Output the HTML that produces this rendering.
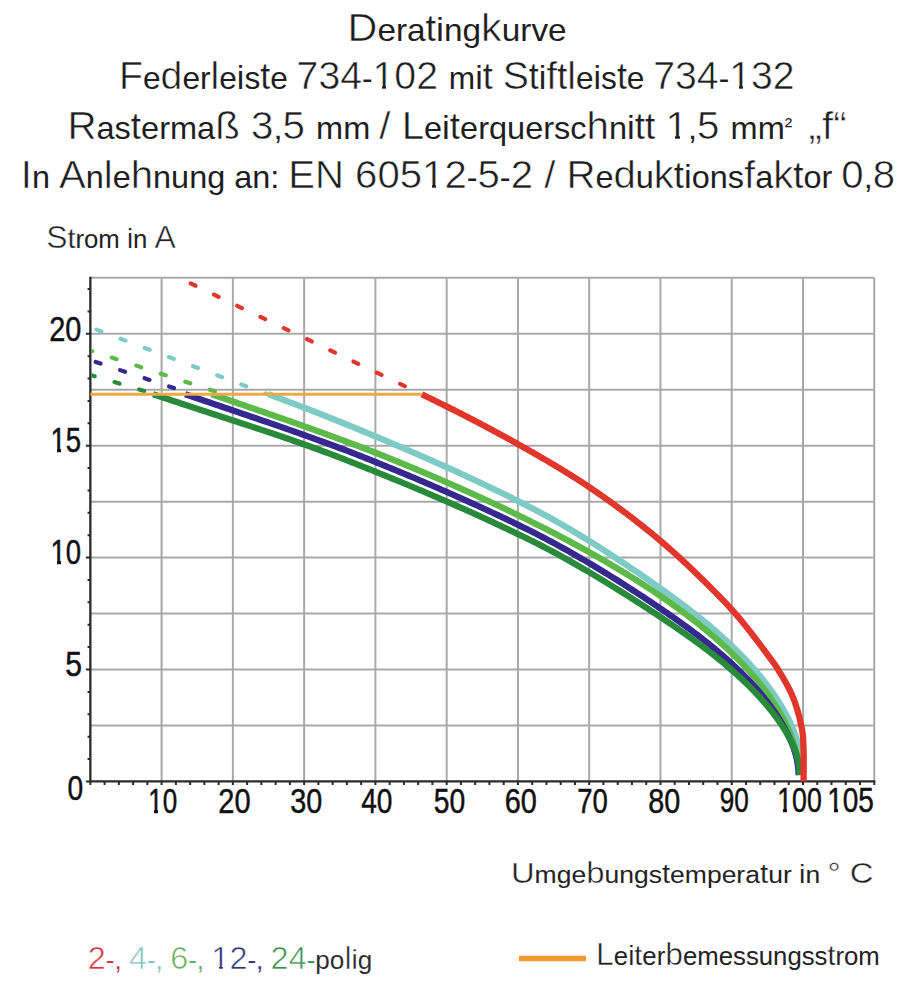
<!DOCTYPE html>
<html><head><meta charset="utf-8"><style>
html,body{margin:0;padding:0;background:#fff;}
svg{display:block;}
text{font-family:"Liberation Sans",sans-serif;}
</style></head><body>
<svg width="917" height="1000" viewBox="0 0 917 1000">
<g>
<rect width="917" height="1000" fill="#fff"/>
<path d="M161.61 277.85V781.40M232.88 277.85V781.40M304.14 277.85V781.40M375.41 277.85V781.40M446.67 277.85V781.40M517.93 277.85V781.40M589.20 277.85V781.40M660.46 277.85V781.40M731.73 277.85V781.40M802.99 277.85V781.40M874.25 277.85V781.40M90.35 725.45H874.25M90.35 669.50H874.25M90.35 613.55H874.25M90.35 557.60H874.25M90.35 501.65H874.25M90.35 445.70H874.25M90.35 389.75H874.25M90.35 333.80H874.25M90.35 277.85H874.25" stroke="#a9a9a9" stroke-width="2" fill="none"/>
<path d="M85.85 781.40H90.35M87.55 759.02H90.35M87.55 736.64H90.35M87.55 714.26H90.35M87.55 691.88H90.35M85.85 669.50H90.35M87.55 647.12H90.35M87.55 624.74H90.35M87.55 602.36H90.35M87.55 579.98H90.35M85.85 557.60H90.35M87.55 535.22H90.35M87.55 512.84H90.35M87.55 490.46H90.35M87.55 468.08H90.35M85.85 445.70H90.35M87.55 423.32H90.35M87.55 400.94H90.35M87.55 378.56H90.35M87.55 356.18H90.35M85.85 333.80H90.35M87.55 311.42H90.35M87.55 289.04H90.35M90.35 781.40V784.90M104.60 781.40V784.90M118.86 781.40V784.90M133.11 781.40V784.90M147.36 781.40V784.90M161.61 781.40V784.90M175.87 781.40V784.90M190.12 781.40V784.90M204.37 781.40V784.90M218.63 781.40V784.90M232.88 781.40V784.90M247.13 781.40V784.90M261.38 781.40V784.90M275.64 781.40V784.90M289.89 781.40V784.90M304.14 781.40V784.90M318.39 781.40V784.90M332.65 781.40V784.90M346.90 781.40V784.90M361.15 781.40V784.90M375.41 781.40V784.90M389.66 781.40V784.90M403.91 781.40V784.90M418.16 781.40V784.90M432.42 781.40V784.90M446.67 781.40V784.90M460.92 781.40V784.90M475.18 781.40V784.90M489.43 781.40V784.90M503.68 781.40V784.90M517.93 781.40V784.90M532.19 781.40V784.90M546.44 781.40V784.90M560.69 781.40V784.90M574.95 781.40V784.90M589.20 781.40V784.90M603.45 781.40V784.90M617.70 781.40V784.90M631.96 781.40V784.90M646.21 781.40V784.90M660.46 781.40V784.90M674.71 781.40V784.90M688.97 781.40V784.90M703.22 781.40V784.90M717.47 781.40V784.90M731.73 781.40V784.90M745.98 781.40V784.90M760.23 781.40V784.90M774.48 781.40V784.90M788.74 781.40V784.90M802.99 781.40V784.90M817.24 781.40V784.90M831.50 781.40V784.90M845.75 781.40V784.90M860.00 781.40V784.90M874.25 781.40V784.90" stroke="#2b2b2b" stroke-width="2" fill="none"/>
<path d="M90.35 276.85V781.40H875.25" stroke="#2b2b2b" stroke-width="2.3" fill="none"/>
<clipPath id="cp"><rect x="91.35" y="277.85" width="783.90" height="503.55"/></clipPath>
<g clip-path="url(#cp)"><path d="M90.35 327.31L267.18 394.23" stroke="#7ecbc6" stroke-width="4.2" stroke-linecap="round" stroke-dasharray="5.2 20.6" stroke-dashoffset="19.18" fill="none"/><path d="M90.35 350.58L223.59 394.23" stroke="#5db94a" stroke-width="4.2" stroke-linecap="round" stroke-dasharray="5.2 20.6" stroke-dashoffset="3.30" fill="none"/><path d="M90.35 360.21L192.54 394.23" stroke="#35288e" stroke-width="4.2" stroke-linecap="round" stroke-dasharray="5.2 20.6" stroke-dashoffset="20.23" fill="none"/><path d="M90.35 374.98L155.48 394.23" stroke="#2a8a3c" stroke-width="4.2" stroke-linecap="round" stroke-dasharray="5.2 20.6" stroke-dashoffset="0.67" fill="none"/><path d="M178.96 277.85L421.80 394.23" stroke="#e1362b" stroke-width="4.2" stroke-linecap="round" stroke-dasharray="5.2 20.6" stroke-dashoffset="12.78" fill="none"/></g>
<path d="M268.51 394.23 L272.88 395.85 L277.23 397.47 L281.55 399.09 L285.86 400.71 L290.13 402.33 L294.39 403.95 L298.63 405.57 L302.84 407.19 L307.03 408.81 L311.21 410.43 L315.36 412.05 L319.49 413.67 L323.60 415.29 L327.69 416.91 L331.76 418.53 L335.82 420.15 L339.85 421.77 L343.87 423.39 L347.87 425.01 L351.85 426.63 L355.81 428.25 L359.76 429.87 L363.69 431.49 L367.60 433.11 L371.50 434.73 L375.39 436.35 L379.25 437.97 L383.11 439.59 L386.94 441.21 L390.77 442.83 L394.58 444.45 L398.37 446.07 L402.15 447.69 L405.92 449.31 L409.68 450.93 L413.42 452.55 L417.16 454.17 L420.88 455.79 L424.58 457.41 L428.28 459.02 L431.95 460.64 L435.61 462.26 L439.25 463.88 L442.87 465.50 L446.48 467.12 L450.06 468.74 L453.63 470.36 L457.18 471.98 L460.72 473.60 L464.24 475.22 L467.73 476.84 L471.22 478.46 L474.68 480.08 L478.13 481.70 L481.55 483.32 L484.97 484.94 L488.36 486.56 L491.73 488.18 L495.09 489.80 L498.43 491.42 L501.76 493.04 L505.06 494.66 L508.35 496.28 L511.62 497.90 L514.87 499.52 L518.10 501.14 L521.32 502.76 L524.52 504.38 L527.70 506.00 L530.86 507.62 L534.01 509.25 L537.14 510.88 L540.25 512.53 L543.34 514.19 L546.42 515.86 L549.47 517.54 L552.51 519.23 L555.53 520.93 L558.54 522.63 L561.52 524.34 L564.49 526.06 L567.44 527.79 L570.38 529.51 L573.29 531.24 L576.19 532.98 L579.07 534.71 L581.93 536.45 L584.77 538.19 L587.60 539.94 L590.41 541.68 L593.20 543.42 L595.97 545.16 L598.72 546.90 L601.46 548.64 L604.18 550.38 L606.88 552.11 L609.57 553.84 L612.23 555.58 L614.88 557.30 L617.51 559.03 L620.12 560.75 L622.71 562.47 L625.29 564.18 L627.85 565.89 L630.39 567.60 L632.91 569.30 L635.41 571.00 L637.90 572.69 L640.37 574.38 L642.82 576.06 L645.25 577.74 L647.67 579.41 L650.06 581.08 L652.44 582.75 L654.80 584.40 L657.14 586.06 L659.47 587.71 L661.77 589.35 L664.06 590.99 L666.33 592.62 L668.59 594.25 L670.82 595.88 L673.04 597.50 L675.24 599.11 L677.42 600.72 L679.58 602.33 L681.72 603.93 L683.85 605.53 L685.96 607.12 L688.05 608.71 L690.12 610.29 L692.17 611.88 L694.21 613.46 L696.22 615.04 L698.22 616.63 L700.20 618.21 L702.17 619.80 L704.11 621.38 L706.04 622.97 L707.95 624.55 L709.84 626.14 L711.71 627.72 L713.56 629.30 L715.40 630.89 L717.21 632.47 L719.01 634.06 L720.79 635.64 L722.56 637.23 L724.30 638.81 L726.02 640.39 L727.73 641.98 L729.42 643.56 L731.09 645.15 L732.74 646.73 L734.38 648.32 L735.99 649.90 L737.59 651.48 L739.17 653.07 L740.73 654.65 L742.27 656.24 L743.80 657.82 L745.30 659.41 L746.79 660.99 L748.26 662.57 L749.71 664.16 L751.14 665.74 L752.55 667.33 L753.95 668.91 L755.32 670.50 L756.68 672.08 L758.02 673.67 L759.34 675.25 L760.64 676.83 L761.93 678.42 L763.19 680.00 L764.44 681.59 L765.66 683.17 L766.87 684.76 L768.06 686.34 L769.23 687.92 L770.39 689.51 L771.52 691.09 L772.64 692.68 L773.73 694.26 L774.81 695.85 L775.87 697.43 L776.91 699.01 L777.93 700.60 L778.93 702.18 L779.92 703.77 L780.88 705.35 L781.83 706.94 L782.76 708.52 L783.66 710.10 L784.55 711.69 L785.42 713.27 L786.27 714.86 L787.11 716.44 L787.92 718.03 L788.71 719.61 L789.49 721.20 L790.24 722.78 L790.97 724.36 L791.68 725.95 L792.38 727.53 L793.04 729.12 L793.69 730.70 L794.31 732.29 L794.90 733.87 L795.47 735.45 L796.00 737.04 L796.50 738.62 L796.96 740.21 L797.39 741.79 L797.77 743.38 L798.12 744.96 L798.42 746.54 L798.68 748.13 L798.91 749.71 L799.10 751.30 L799.26 752.88 L799.39 754.47 L799.50 756.05 L799.60 757.63 L799.67 759.22 L799.73 760.80 L799.79 762.39 L799.83 763.97 L799.86 765.56 L799.89 767.14 L799.91 768.73 L799.93 770.31 L799.95 771.89 L799.96 773.48 L799.97 775.06" stroke="#7ecbc6" stroke-width="6.3" fill="none" stroke-linejoin="round" stroke-linecap="butt"/>
<path d="M211.50 394.23 L216.24 395.85 L220.98 397.47 L225.73 399.09 L230.47 400.71 L235.20 402.33 L239.93 403.95 L244.66 405.57 L249.38 407.19 L254.10 408.81 L258.81 410.43 L263.50 412.05 L268.19 413.67 L272.87 415.29 L277.53 416.91 L282.18 418.53 L286.82 420.15 L291.44 421.77 L296.04 423.39 L300.63 425.01 L305.20 426.63 L309.75 428.25 L314.27 429.87 L318.78 431.49 L323.27 433.11 L327.73 434.73 L332.16 436.35 L336.57 437.97 L340.96 439.59 L345.31 441.21 L349.64 442.83 L353.94 444.45 L358.21 446.07 L362.44 447.69 L366.65 449.31 L370.81 450.93 L374.95 452.55 L379.05 454.17 L383.11 455.79 L387.13 457.41 L391.13 459.02 L395.11 460.64 L399.07 462.26 L403.02 463.88 L406.94 465.50 L410.85 467.12 L414.73 468.74 L418.60 470.36 L422.45 471.98 L426.28 473.60 L430.09 475.22 L433.88 476.84 L437.66 478.46 L441.41 480.08 L445.15 481.70 L448.86 483.32 L452.56 484.94 L456.24 486.56 L459.90 488.18 L463.54 489.80 L467.16 491.42 L470.76 493.04 L474.35 494.66 L477.91 496.28 L481.46 497.90 L484.98 499.52 L488.49 501.14 L491.98 502.76 L495.45 504.38 L498.90 506.00 L502.33 507.62 L505.74 509.24 L509.13 510.86 L512.51 512.48 L515.86 514.10 L519.20 515.72 L522.52 517.34 L525.81 518.96 L529.09 520.58 L532.35 522.20 L535.59 523.82 L538.81 525.44 L542.01 527.06 L545.20 528.68 L548.36 530.30 L551.50 531.92 L554.63 533.54 L557.74 535.16 L560.82 536.78 L563.89 538.40 L566.94 540.02 L569.97 541.64 L572.98 543.26 L575.97 544.88 L578.94 546.50 L581.89 548.12 L584.83 549.74 L587.74 551.36 L590.64 552.98 L593.51 554.60 L596.37 556.22 L599.20 557.84 L602.02 559.46 L604.82 561.08 L607.60 562.70 L610.36 564.32 L613.10 565.94 L615.82 567.56 L618.52 569.18 L621.20 570.80 L623.87 572.42 L626.51 574.04 L629.13 575.66 L631.74 577.28 L634.32 578.90 L636.89 580.52 L639.44 582.14 L641.96 583.76 L644.47 585.38 L646.96 587.00 L649.43 588.62 L651.88 590.24 L654.31 591.86 L656.72 593.48 L659.11 595.10 L661.48 596.72 L663.83 598.34 L666.17 599.96 L668.48 601.58 L670.77 603.20 L673.05 604.82 L675.30 606.44 L677.53 608.06 L679.75 609.68 L681.94 611.30 L684.12 612.92 L686.28 614.54 L688.41 616.16 L690.53 617.78 L692.63 619.40 L694.71 621.02 L696.76 622.64 L698.80 624.26 L700.82 625.88 L702.82 627.50 L704.80 629.12 L706.76 630.74 L708.70 632.36 L710.62 633.98 L712.52 635.60 L714.40 637.22 L716.26 638.84 L718.10 640.46 L719.92 642.08 L721.72 643.70 L723.50 645.32 L725.27 646.94 L727.01 648.56 L728.73 650.18 L730.43 651.80 L732.11 653.42 L733.77 655.04 L735.42 656.66 L737.04 658.28 L738.64 659.90 L740.22 661.52 L741.79 663.14 L743.33 664.76 L744.85 666.38 L746.35 668.00 L747.83 669.62 L749.30 671.24 L750.74 672.86 L752.16 674.48 L753.56 676.10 L754.94 677.72 L756.30 679.34 L757.64 680.96 L758.96 682.58 L760.26 684.20 L761.55 685.82 L762.81 687.44 L764.04 689.06 L765.26 690.68 L766.46 692.30 L767.64 693.92 L768.80 695.54 L769.94 697.16 L771.06 698.78 L772.15 700.40 L773.23 702.02 L774.29 703.64 L775.32 705.26 L776.34 706.88 L777.33 708.50 L778.30 710.12 L779.26 711.74 L780.19 713.36 L781.10 714.98 L781.99 716.60 L782.86 718.22 L783.71 719.84 L784.54 721.46 L785.35 723.08 L786.14 724.70 L786.90 726.32 L787.65 727.94 L788.37 729.56 L789.07 731.18 L789.75 732.80 L790.41 734.42 L791.05 736.04 L791.66 737.66 L792.26 739.28 L792.82 740.90 L793.37 742.52 L793.89 744.14 L794.38 745.76 L794.85 747.38 L795.29 749.00 L795.71 750.62 L796.10 752.24 L796.45 753.86 L796.78 755.48 L797.08 757.10 L797.36 758.72 L797.60 760.34 L797.82 761.96 L798.02 763.58 L798.19 765.20 L798.33 766.82 L798.46 768.44 L798.57 770.06 L798.66 771.68 L798.74 773.30 L798.80 774.92" stroke="#5db94a" stroke-width="6.3" fill="none" stroke-linejoin="round" stroke-linecap="butt"/>
<path d="M185.13 394.23 L189.89 395.85 L194.66 397.47 L199.43 399.09 L204.21 400.71 L208.99 402.33 L213.77 403.95 L218.56 405.57 L223.34 407.19 L228.13 408.81 L232.91 410.43 L237.68 412.05 L242.45 413.67 L247.22 415.29 L251.97 416.91 L256.72 418.53 L261.45 420.15 L266.17 421.77 L270.87 423.39 L275.56 425.01 L280.24 426.63 L284.89 428.25 L289.53 429.87 L294.14 431.49 L298.73 433.11 L303.30 434.73 L307.84 436.35 L312.36 437.97 L316.85 439.59 L321.30 441.21 L325.73 442.83 L330.13 444.45 L334.49 446.07 L338.81 447.69 L343.10 449.31 L347.35 450.93 L351.57 452.55 L355.74 454.17 L359.87 455.79 L363.96 457.41 L368.02 459.02 L372.07 460.64 L376.10 462.26 L380.11 463.88 L384.10 465.50 L388.08 467.12 L392.03 468.74 L395.97 470.36 L399.90 471.98 L403.80 473.60 L407.69 475.22 L411.56 476.84 L415.41 478.46 L419.24 480.08 L423.06 481.70 L426.85 483.32 L430.63 484.94 L434.40 486.56 L438.14 488.18 L441.87 489.80 L445.57 491.42 L449.26 493.04 L452.94 494.66 L456.59 496.28 L460.23 497.90 L463.85 499.52 L467.45 501.14 L471.03 502.76 L474.59 504.38 L478.14 506.00 L481.67 507.62 L485.18 509.24 L488.67 510.86 L492.14 512.48 L495.60 514.10 L499.04 515.72 L502.46 517.34 L505.86 518.96 L509.24 520.58 L512.61 522.20 L515.95 523.82 L519.28 525.44 L522.59 527.06 L525.89 528.68 L529.16 530.30 L532.42 531.92 L535.65 533.55 L538.87 535.19 L542.07 536.84 L545.26 538.50 L548.42 540.17 L551.57 541.85 L554.69 543.53 L557.80 545.22 L560.89 546.92 L563.96 548.62 L567.02 550.33 L570.05 552.04 L573.07 553.75 L576.07 555.47 L579.05 557.19 L582.01 558.91 L584.95 560.63 L587.88 562.36 L590.78 564.08 L593.67 565.80 L596.54 567.53 L599.39 569.25 L602.22 570.97 L605.03 572.69 L607.82 574.40 L610.60 576.12 L613.35 577.83 L616.09 579.54 L618.81 581.25 L621.51 582.95 L624.19 584.65 L626.85 586.35 L629.49 588.04 L632.12 589.73 L634.72 591.41 L637.31 593.09 L639.88 594.77 L642.43 596.44 L644.96 598.11 L647.47 599.78 L649.96 601.44 L652.43 603.09 L654.88 604.74 L657.32 606.39 L659.73 608.03 L662.13 609.67 L664.51 611.30 L666.86 612.93 L669.20 614.56 L671.52 616.18 L673.82 617.79 L676.10 619.40 L678.36 621.01 L680.61 622.62 L682.83 624.22 L685.03 625.81 L687.22 627.40 L689.38 628.99 L691.52 630.58 L693.65 632.17 L695.76 633.76 L697.84 635.34 L699.91 636.93 L701.96 638.52 L703.98 640.11 L705.99 641.69 L707.98 643.28 L709.95 644.87 L711.90 646.46 L713.83 648.04 L715.73 649.63 L717.62 651.22 L719.49 652.81 L721.34 654.39 L723.17 655.98 L724.98 657.57 L726.77 659.16 L728.54 660.74 L730.29 662.33 L732.02 663.92 L733.73 665.51 L735.42 667.09 L737.09 668.68 L738.73 670.27 L740.36 671.86 L741.97 673.44 L743.56 675.03 L745.12 676.62 L746.67 678.21 L748.20 679.80 L749.70 681.38 L751.19 682.97 L752.65 684.56 L754.09 686.15 L755.52 687.73 L756.92 689.32 L758.30 690.91 L759.66 692.50 L761.00 694.08 L762.32 695.67 L763.62 697.26 L764.89 698.85 L766.15 700.43 L767.38 702.02 L768.59 703.61 L769.79 705.20 L770.96 706.78 L772.11 708.37 L773.23 709.96 L774.34 711.55 L775.42 713.13 L776.49 714.72 L777.53 716.31 L778.55 717.90 L779.54 719.48 L780.52 721.07 L781.47 722.66 L782.40 724.25 L783.31 725.83 L784.20 727.42 L785.06 729.01 L785.90 730.60 L786.72 732.19 L787.52 733.77 L788.29 735.36 L789.04 736.95 L789.77 738.54 L790.47 740.12 L791.15 741.71 L791.80 743.30 L792.43 744.89 L793.04 746.47 L793.61 748.06 L794.16 749.65 L794.68 751.24 L795.17 752.82 L795.62 754.41 L796.05 756.00 L796.44 757.59 L796.80 759.17 L797.13 760.76 L797.42 762.35 L797.68 763.94 L797.92 765.52 L798.12 767.11 L798.29 768.70 L798.44 770.29 L798.56 771.87 L798.67 773.46 L798.75 775.05" stroke="#35288e" stroke-width="6.3" fill="none" stroke-linejoin="round" stroke-linecap="butt"/>
<path d="M153.06 394.23 L157.90 395.85 L162.76 397.47 L167.64 399.09 L172.54 400.71 L177.46 402.33 L182.39 403.95 L187.34 405.57 L192.30 407.19 L197.26 408.81 L202.24 410.43 L207.22 412.05 L212.20 413.67 L217.18 415.29 L222.15 416.91 L227.13 418.53 L232.09 420.15 L237.05 421.77 L242.00 423.39 L246.93 425.01 L251.85 426.63 L256.74 428.25 L261.62 429.87 L266.48 431.49 L271.31 433.11 L276.11 434.73 L280.89 436.35 L285.63 437.97 L290.34 439.59 L295.02 441.21 L299.66 442.83 L304.25 444.45 L308.81 446.07 L313.31 447.69 L317.78 449.31 L322.19 450.93 L326.55 452.55 L330.86 454.17 L335.11 455.79 L339.31 457.41 L343.48 459.02 L347.63 460.64 L351.76 462.26 L355.88 463.88 L359.99 465.50 L364.07 467.12 L368.14 468.74 L372.19 470.36 L376.22 471.98 L380.24 473.60 L384.24 475.22 L388.22 476.84 L392.19 478.46 L396.14 480.08 L400.07 481.70 L403.99 483.32 L407.89 484.94 L411.77 486.56 L415.63 488.18 L419.48 489.80 L423.31 491.42 L427.12 493.04 L430.91 494.66 L434.69 496.28 L438.45 497.90 L442.20 499.52 L445.92 501.14 L449.63 502.76 L453.32 504.38 L457.00 506.00 L460.65 507.62 L464.29 509.24 L467.92 510.86 L471.52 512.48 L475.11 514.10 L478.68 515.72 L482.23 517.34 L485.77 518.96 L489.28 520.58 L492.78 522.20 L496.26 523.82 L499.73 525.44 L503.18 527.06 L506.61 528.68 L510.02 530.30 L513.41 531.92 L516.79 533.54 L520.15 535.16 L523.49 536.78 L526.81 538.40 L530.12 540.02 L533.40 541.64 L536.67 543.28 L539.93 544.93 L543.16 546.59 L546.38 548.26 L549.57 549.94 L552.75 551.63 L555.92 553.34 L559.06 555.05 L562.19 556.76 L565.30 558.49 L568.39 560.21 L571.46 561.95 L574.51 563.68 L577.55 565.42 L580.57 567.17 L583.56 568.91 L586.55 570.65 L589.51 572.40 L592.45 574.15 L595.38 575.89 L598.29 577.64 L601.18 579.38 L604.05 581.12 L606.90 582.86 L609.74 584.59 L612.55 586.33 L615.35 588.06 L618.13 589.78 L620.89 591.51 L623.63 593.22 L626.35 594.94 L629.06 596.65 L631.74 598.35 L634.41 600.05 L637.06 601.75 L639.69 603.44 L642.30 605.12 L644.89 606.80 L647.46 608.47 L650.02 610.14 L652.55 611.80 L655.07 613.46 L657.56 615.11 L660.04 616.76 L662.50 618.40 L664.94 620.03 L667.36 621.66 L669.76 623.29 L672.14 624.90 L674.51 626.52 L676.85 628.12 L679.17 629.73 L681.48 631.32 L683.76 632.92 L686.03 634.50 L688.28 636.09 L690.50 637.67 L692.71 639.25 L694.90 640.83 L697.06 642.41 L699.21 643.99 L701.34 645.57 L703.45 647.14 L705.54 648.72 L707.61 650.30 L709.65 651.88 L711.68 653.46 L713.69 655.04 L715.68 656.62 L717.65 658.20 L719.60 659.78 L721.52 661.36 L723.43 662.94 L725.32 664.52 L727.18 666.10 L729.03 667.68 L730.86 669.26 L732.66 670.84 L734.45 672.42 L736.21 674.00 L737.95 675.58 L739.68 677.15 L741.38 678.73 L743.06 680.31 L744.72 681.89 L746.36 683.47 L747.97 685.05 L749.57 686.63 L751.14 688.21 L752.70 689.79 L754.23 691.37 L755.74 692.95 L757.23 694.53 L758.70 696.11 L760.14 697.69 L761.57 699.27 L762.97 700.85 L764.35 702.43 L765.71 704.01 L767.04 705.59 L768.36 707.16 L769.65 708.74 L770.92 710.32 L772.16 711.90 L773.39 713.48 L774.59 715.06 L775.77 716.64 L776.92 718.22 L778.05 719.80 L779.16 721.38 L780.25 722.96 L781.31 724.54 L782.35 726.12 L783.37 727.70 L784.36 729.28 L785.33 730.86 L786.27 732.44 L787.19 734.02 L788.08 735.60 L788.95 737.17 L789.80 738.75 L790.62 740.33 L791.41 741.91 L792.17 743.49 L792.91 745.07 L793.61 746.65 L794.28 748.23 L794.92 749.81 L795.52 751.39 L796.08 752.97 L796.60 754.55 L797.07 756.13 L797.50 757.71 L797.88 759.29 L798.21 760.87 L798.49 762.45 L798.73 764.03 L798.93 765.61 L799.10 767.18 L799.24 768.76 L799.35 770.34 L799.44 771.92 L799.51 773.50 L799.57 775.08" stroke="#2a8a3c" stroke-width="6.3" fill="none" stroke-linejoin="round" stroke-linecap="butt"/>
<path d="M421.80 394.23 L425.08 395.85 L428.41 397.47 L431.73 399.09 L435.04 400.71 L438.33 402.33 L441.60 403.95 L444.86 405.57 L448.11 407.19 L451.34 408.81 L454.55 410.43 L457.75 412.05 L460.93 413.67 L464.10 415.29 L467.26 416.91 L470.39 418.53 L473.52 420.15 L476.62 421.77 L479.72 423.39 L482.79 425.01 L485.85 426.63 L488.90 428.25 L491.93 429.87 L494.94 431.49 L497.94 433.11 L500.92 434.73 L503.89 436.35 L506.84 437.97 L509.78 439.59 L512.70 441.21 L515.60 442.83 L518.49 444.45 L521.37 446.07 L524.23 447.69 L527.09 449.31 L529.94 450.93 L532.78 452.55 L535.61 454.17 L538.42 455.79 L541.22 457.41 L544.00 459.02 L546.77 460.64 L549.53 462.26 L552.26 463.88 L554.98 465.50 L557.69 467.12 L560.37 468.74 L563.03 470.36 L565.67 471.98 L568.30 473.60 L570.89 475.22 L573.47 476.84 L576.02 478.46 L578.55 480.08 L581.05 481.70 L583.53 483.32 L585.98 484.94 L588.40 486.56 L590.80 488.18 L593.17 489.80 L595.54 491.42 L597.89 493.04 L600.22 494.66 L602.54 496.28 L604.84 497.90 L607.12 499.52 L609.39 501.14 L611.65 502.76 L613.89 504.38 L616.12 506.00 L618.33 507.62 L620.52 509.24 L622.70 510.86 L624.87 512.48 L627.02 514.10 L629.16 515.72 L631.28 517.34 L633.39 518.96 L635.48 520.58 L637.56 522.20 L639.63 523.82 L641.68 525.44 L643.71 527.06 L645.74 528.68 L647.75 530.30 L649.75 531.92 L651.73 533.54 L653.70 535.16 L655.65 536.78 L657.60 538.40 L659.52 540.02 L661.44 541.64 L663.34 543.26 L665.22 544.88 L667.09 546.50 L668.94 548.12 L670.78 549.74 L672.60 551.36 L674.41 552.98 L676.21 554.60 L677.99 556.22 L679.76 557.84 L681.52 559.46 L683.27 561.08 L685.00 562.70 L686.73 564.32 L688.44 565.94 L690.15 567.56 L691.84 569.18 L693.53 570.80 L695.21 572.42 L696.88 574.04 L698.54 575.66 L700.20 577.28 L701.85 578.90 L703.50 580.52 L705.13 582.14 L706.77 583.76 L708.40 585.38 L710.02 587.00 L711.65 588.62 L713.26 590.24 L714.88 591.86 L716.48 593.48 L718.08 595.10 L719.66 596.72 L721.24 598.34 L722.81 599.96 L724.36 601.58 L725.90 603.20 L727.42 604.82 L728.92 606.44 L730.41 608.06 L731.87 609.68 L733.32 611.30 L734.74 612.92 L736.15 614.54 L737.53 616.16 L738.90 617.78 L740.26 619.40 L741.61 621.02 L742.94 622.64 L744.26 624.26 L745.57 625.88 L746.87 627.50 L748.15 629.12 L749.43 630.74 L750.70 632.36 L751.96 633.98 L753.21 635.60 L754.45 637.22 L755.69 638.84 L756.92 640.46 L758.15 642.08 L759.37 643.70 L760.59 645.32 L761.80 646.94 L763.01 648.56 L764.22 650.18 L765.42 651.80 L766.63 653.42 L767.84 655.04 L769.05 656.66 L770.26 658.28 L771.47 659.90 L772.65 661.52 L773.81 663.14 L774.95 664.76 L776.05 666.38 L777.11 668.00 L778.12 669.62 L779.11 671.24 L780.10 672.86 L781.07 674.48 L782.04 676.10 L783.00 677.72 L783.94 679.34 L784.87 680.96 L785.78 682.58 L786.68 684.20 L787.55 685.82 L788.40 687.44 L789.23 689.06 L790.03 690.68 L790.80 692.30 L791.54 693.92 L792.25 695.54 L792.93 697.16 L793.57 698.78 L794.17 700.40 L794.75 702.02 L795.31 703.64 L795.85 705.26 L796.38 706.88 L796.89 708.50 L797.39 710.12 L797.87 711.74 L798.33 713.36 L798.77 714.98 L799.20 716.60 L799.61 718.22 L800.00 719.84 L800.37 721.46 L800.72 723.08 L801.06 724.70 L801.38 726.32 L801.70 727.94 L802.02 729.56 L802.32 731.18 L802.58 732.80 L802.80 734.42 L802.95 736.04 L803.05 737.66 L803.14 739.28 L803.22 740.90 L803.29 742.52 L803.37 744.14 L803.43 745.76 L803.49 747.38 L803.54 749.00 L803.59 750.62 L803.63 752.24 L803.66 753.86 L803.68 755.48 L803.70 757.10 L803.70 758.72 L803.70 760.34 L803.70 761.96 L803.70 763.58 L803.70 765.20 L803.69 766.82 L803.69 768.44 L803.68 770.06 L803.66 771.68 L803.65 773.30 L803.63 774.92 L803.60 776.54 L803.57 778.16 L803.53 779.78 L803.49 781.40" stroke="#e1362b" stroke-width="6.3" fill="none" stroke-linejoin="round" stroke-linecap="butt"/>
<path d="M90.35 394.23H421.73" stroke="#eca948" stroke-width="3" fill="none"/>
<path d="M519 958.5H586" stroke="#f09a30" stroke-width="5.5" fill="none"/>
<text id="t1" x="347.61" y="40.60" font-size="39.4" textLength="218.97" lengthAdjust="spacingAndGlyphs" fill="#1e1e1e"><tspan font-size="39.4" stroke="#fff" stroke-width="0.55">D</tspan><tspan font-size="31.8">era</tspan><tspan font-size="36" stroke="#fff" stroke-width="0.24">t</tspan><tspan font-size="34" stroke="#fff" stroke-width="0.06">i</tspan><tspan font-size="31.8">ng</tspan><tspan font-size="39.4" stroke="#fff" stroke-width="0.55">k</tspan><tspan font-size="31.8">urve</tspan></text>
<text id="t2" x="119.02" y="88.70" font-size="39.4" textLength="675.63" lengthAdjust="spacingAndGlyphs" fill="#1e1e1e"><tspan font-size="39.4" stroke="#fff" stroke-width="0.55">F</tspan><tspan font-size="31.8">e</tspan><tspan font-size="39.4" stroke="#fff" stroke-width="0.55">d</tspan><tspan font-size="31.8">er</tspan><tspan font-size="39.4" stroke="#fff" stroke-width="0.55">l</tspan><tspan font-size="31.8">e</tspan><tspan font-size="34" stroke="#fff" stroke-width="0.06">i</tspan><tspan font-size="31.8">s</tspan><tspan font-size="36" stroke="#fff" stroke-width="0.24">t</tspan><tspan font-size="31.8">e </tspan><tspan font-size="39.4" stroke="#fff" stroke-width="0.55">734</tspan><tspan font-size="31.8">-</tspan><tspan font-size="39.4" stroke="#fff" stroke-width="0.55">102 </tspan><tspan font-size="31.8">m</tspan><tspan font-size="34" stroke="#fff" stroke-width="0.06">i</tspan><tspan font-size="36" stroke="#fff" stroke-width="0.24">t </tspan><tspan font-size="39.4" stroke="#fff" stroke-width="0.55">S</tspan><tspan font-size="36" stroke="#fff" stroke-width="0.24">t</tspan><tspan font-size="34" stroke="#fff" stroke-width="0.06">i</tspan><tspan font-size="39.4" stroke="#fff" stroke-width="0.55">f</tspan><tspan font-size="36" stroke="#fff" stroke-width="0.24">t</tspan><tspan font-size="39.4" stroke="#fff" stroke-width="0.55">l</tspan><tspan font-size="31.8">e</tspan><tspan font-size="34" stroke="#fff" stroke-width="0.06">i</tspan><tspan font-size="31.8">s</tspan><tspan font-size="36" stroke="#fff" stroke-width="0.24">t</tspan><tspan font-size="31.8">e </tspan><tspan font-size="39.4" stroke="#fff" stroke-width="0.55">734</tspan><tspan font-size="31.8">-</tspan><tspan font-size="39.4" stroke="#fff" stroke-width="0.55">132</tspan></text>
<text id="t3" x="67.41" y="138.70" font-size="39.4" textLength="779.19" lengthAdjust="spacingAndGlyphs" fill="#1e1e1e"><tspan font-size="39.4" stroke="#fff" stroke-width="0.55">R</tspan><tspan font-size="31.8">as</tspan><tspan font-size="36" stroke="#fff" stroke-width="0.24">t</tspan><tspan font-size="31.8">erma</tspan><tspan font-size="39.4" stroke="#fff" stroke-width="0.55">ß 3</tspan><tspan font-size="31.8">,</tspan><tspan font-size="39.4" stroke="#fff" stroke-width="0.55">5 </tspan><tspan font-size="31.8">mm </tspan><tspan font-size="39.4" stroke="#fff" stroke-width="0.55">/ L</tspan><tspan font-size="31.8">e</tspan><tspan font-size="34" stroke="#fff" stroke-width="0.06">i</tspan><tspan font-size="36" stroke="#fff" stroke-width="0.24">t</tspan><tspan font-size="31.8">erquersc</tspan><tspan font-size="39.4" stroke="#fff" stroke-width="0.55">h</tspan><tspan font-size="31.8">n</tspan><tspan font-size="34" stroke="#fff" stroke-width="0.06">i</tspan><tspan font-size="36" stroke="#fff" stroke-width="0.24">tt </tspan><tspan font-size="39.4" stroke="#fff" stroke-width="0.55">1</tspan><tspan font-size="31.8">,</tspan><tspan font-size="39.4" stroke="#fff" stroke-width="0.55">5 </tspan><tspan font-size="31.8">mm</tspan><tspan font-size="22" baseline-shift="6">²</tspan><tspan font-size="31.8"> </tspan><tspan font-size="39.4" stroke="#fff" stroke-width="0.55">„f“</tspan></text>
<text id="t4" x="20.82" y="188.00" font-size="39.4" textLength="874.17" lengthAdjust="spacingAndGlyphs" fill="#1e1e1e"><tspan font-size="39.4" stroke="#fff" stroke-width="0.55">I</tspan><tspan font-size="31.8">n </tspan><tspan font-size="39.4" stroke="#fff" stroke-width="0.55">A</tspan><tspan font-size="31.8">n</tspan><tspan font-size="39.4" stroke="#fff" stroke-width="0.55">l</tspan><tspan font-size="31.8">e</tspan><tspan font-size="39.4" stroke="#fff" stroke-width="0.55">h</tspan><tspan font-size="31.8">nung an: </tspan><tspan font-size="39.4" stroke="#fff" stroke-width="0.55">EN 60512</tspan><tspan font-size="31.8">-</tspan><tspan font-size="39.4" stroke="#fff" stroke-width="0.55">5</tspan><tspan font-size="31.8">-</tspan><tspan font-size="39.4" stroke="#fff" stroke-width="0.55">2 / R</tspan><tspan font-size="31.8">e</tspan><tspan font-size="39.4" stroke="#fff" stroke-width="0.55">d</tspan><tspan font-size="31.8">u</tspan><tspan font-size="39.4" stroke="#fff" stroke-width="0.55">k</tspan><tspan font-size="36" stroke="#fff" stroke-width="0.24">t</tspan><tspan font-size="34" stroke="#fff" stroke-width="0.06">i</tspan><tspan font-size="31.8">ons</tspan><tspan font-size="39.4" stroke="#fff" stroke-width="0.55">f</tspan><tspan font-size="31.8">a</tspan><tspan font-size="39.4" stroke="#fff" stroke-width="0.55">k</tspan><tspan font-size="36" stroke="#fff" stroke-width="0.24">t</tspan><tspan font-size="31.8">or </tspan><tspan font-size="39.4" stroke="#fff" stroke-width="0.55">0</tspan><tspan font-size="31.8">,</tspan><tspan font-size="39.4" stroke="#fff" stroke-width="0.55">8</tspan></text>
<text id="t5" x="46.24" y="248.20" font-size="30.9" textLength="129.61" lengthAdjust="spacingAndGlyphs" fill="#222"><tspan font-size="30.9" stroke="#fff" stroke-width="0.53">S</tspan><tspan font-size="27.81" stroke="#fff" stroke-width="0.25">t</tspan><tspan font-size="24.94">rom </tspan><tspan font-size="26.88" stroke="#fff" stroke-width="0.17">i</tspan><tspan font-size="24.94">n </tspan><tspan font-size="30.9" stroke="#fff" stroke-width="0.53">A</tspan></text>
<text id="y20" x="49.25" y="340.80" font-size="35" textLength="32.12" lengthAdjust="spacingAndGlyphs" fill="#111" stroke="#111" stroke-width="0.5">20</text>
<text id="y15" x="50.54" y="452.40" font-size="35" textLength="30.59" lengthAdjust="spacingAndGlyphs" fill="#111" stroke="#111" stroke-width="0.5">15</text>
<text id="y10" x="50.54" y="564.00" font-size="35" textLength="30.59" lengthAdjust="spacingAndGlyphs" fill="#111" stroke="#111" stroke-width="0.5">10</text>
<text id="y5" x="65.28" y="676.30" font-size="35" textLength="16.79" lengthAdjust="spacingAndGlyphs" fill="#111" stroke="#111" stroke-width="0.5">5</text>
<text id="y0" x="67.39" y="800.10" font-size="35" textLength="15.69" lengthAdjust="spacingAndGlyphs" fill="#111" stroke="#111" stroke-width="0.5">0</text>
<text id="x10" x="148.37" y="812.70" font-size="35" textLength="28.93" lengthAdjust="spacingAndGlyphs" fill="#111" stroke="#111" stroke-width="0.5">10</text>
<text id="x20" x="218.34" y="812.70" font-size="35" textLength="32.23" lengthAdjust="spacingAndGlyphs" fill="#111" stroke="#111" stroke-width="0.5">20</text>
<text id="x30" x="290.26" y="813.00" font-size="35" textLength="32.02" lengthAdjust="spacingAndGlyphs" fill="#111" stroke="#111" stroke-width="0.5">30</text>
<text id="x40" x="361.20" y="813.00" font-size="35" textLength="31.26" lengthAdjust="spacingAndGlyphs" fill="#111" stroke="#111" stroke-width="0.5">40</text>
<text id="x50" x="433.78" y="813.00" font-size="35" textLength="31.47" lengthAdjust="spacingAndGlyphs" fill="#111" stroke="#111" stroke-width="0.5">50</text>
<text id="x60" x="504.75" y="813.00" font-size="35" textLength="32.12" lengthAdjust="spacingAndGlyphs" fill="#111" stroke="#111" stroke-width="0.5">60</text>
<text id="x70" x="577.23" y="813.00" font-size="35" textLength="30.61" lengthAdjust="spacingAndGlyphs" fill="#111" stroke="#111" stroke-width="0.5">70</text>
<text id="x80" x="648.26" y="813.00" font-size="35" textLength="32.02" lengthAdjust="spacingAndGlyphs" fill="#111" stroke="#111" stroke-width="0.5">80</text>
<text id="x90" x="719.71" y="812.40" font-size="35" textLength="29.09" lengthAdjust="spacingAndGlyphs" fill="#111" stroke="#111" stroke-width="0.5">90</text>
<text id="x100" x="777.21" y="812.40" font-size="35" textLength="44.56" lengthAdjust="spacingAndGlyphs" fill="#111" stroke="#111" stroke-width="0.5">100</text>
<text id="x105" x="827.20" y="812.40" font-size="35" textLength="46.72" lengthAdjust="spacingAndGlyphs" fill="#111" stroke="#111" stroke-width="0.5">105</text>
<text id="t6" x="510.92" y="882.70" font-size="30.0" textLength="362.60" lengthAdjust="spacingAndGlyphs" fill="#222"><tspan font-size="30.0" stroke="#fff" stroke-width="0.45">U</tspan><tspan font-size="24.21">mge</tspan><tspan font-size="30.0" stroke="#fff" stroke-width="0.45">b</tspan><tspan font-size="24.21">ungs</tspan><tspan font-size="27.0" stroke="#fff" stroke-width="0.18">t</tspan><tspan font-size="24.21">empera</tspan><tspan font-size="27.0" stroke="#fff" stroke-width="0.18">t</tspan><tspan font-size="24.21">ur </tspan><tspan font-size="26.1" stroke="#fff" stroke-width="0.10">i</tspan><tspan font-size="24.21">n </tspan><tspan font-size="30.0" stroke="#fff" stroke-width="0.45">° C</tspan></text>
<text id="t7" x="87.68" y="969.00" font-size="32.0" textLength="284.72" lengthAdjust="spacingAndGlyphs" fill="#222"><tspan font-size="32.0" stroke="#fff" stroke-width="0.63" fill="#d8323c">2</tspan><tspan font-size="25.82" stroke="#fff" stroke-width="0.07" fill="#d8323c">-,</tspan><tspan font-size="25.82" stroke="#fff" stroke-width="0.07" fill="#2a2a2a"> </tspan><tspan font-size="32.0" stroke="#fff" stroke-width="0.63" fill="#86c4c2">4</tspan><tspan font-size="25.82" stroke="#fff" stroke-width="0.07" fill="#86c4c2">-,</tspan><tspan font-size="25.82" stroke="#fff" stroke-width="0.07" fill="#2a2a2a"> </tspan><tspan font-size="32.0" stroke="#fff" stroke-width="0.63" fill="#68ad5c">6</tspan><tspan font-size="25.82" stroke="#fff" stroke-width="0.07" fill="#68ad5c">-,</tspan><tspan font-size="25.82" stroke="#fff" stroke-width="0.07" fill="#2a2a2a"> </tspan><tspan font-size="32.0" stroke="#fff" stroke-width="0.63" fill="#35347a">12</tspan><tspan font-size="25.82" stroke="#fff" stroke-width="0.07" fill="#35347a">-,</tspan><tspan font-size="25.82" stroke="#fff" stroke-width="0.07" fill="#2a2a2a"> </tspan><tspan font-size="32.0" stroke="#fff" stroke-width="0.63" fill="#3f8f55">24</tspan><tspan font-size="25.82" stroke="#fff" stroke-width="0.07" fill="#3f8f55">-</tspan><tspan font-size="25.82" stroke="#fff" stroke-width="0.07" fill="#2a2a2a">po</tspan><tspan font-size="32.0" stroke="#fff" stroke-width="0.63" fill="#2a2a2a">l</tspan><tspan font-size="27.84" stroke="#fff" stroke-width="0.26" fill="#2a2a2a">i</tspan><tspan font-size="25.82" stroke="#fff" stroke-width="0.07" fill="#2a2a2a">g</tspan></text>
<text id="t8" x="596.10" y="965.00" font-size="30.9" textLength="283.70" lengthAdjust="spacingAndGlyphs" fill="#222"><tspan font-size="30.9" stroke="#fff" stroke-width="0.53">L</tspan><tspan font-size="24.94">e</tspan><tspan font-size="26.88" stroke="#fff" stroke-width="0.17">i</tspan><tspan font-size="27.81" stroke="#fff" stroke-width="0.25">t</tspan><tspan font-size="24.94">er</tspan><tspan font-size="30.9" stroke="#fff" stroke-width="0.53">b</tspan><tspan font-size="24.94">emessungss</tspan><tspan font-size="27.81" stroke="#fff" stroke-width="0.25">t</tspan><tspan font-size="24.94">rom</tspan></text>
<rect x="386" y="83" width="1" height="1" fill="#fff"/>
<rect x="386" y="84" width="1" height="1" fill="#fff"/>
<rect x="386" y="85" width="1" height="1" fill="#fff"/>
<rect x="375" y="86" width="7" height="1" fill="#fff"/>
<rect x="386" y="86" width="7" height="1" fill="#fff"/>
<rect x="375" y="87" width="7" height="1" fill="#fff"/>
<rect x="386" y="87" width="7" height="1" fill="#fff"/>
<rect x="375" y="88" width="7" height="1" fill="#fff"/>
<rect x="386" y="88" width="7" height="1" fill="#fff"/>
<rect x="738" y="83" width="1" height="1" fill="#fff"/>
<rect x="738" y="84" width="1" height="1" fill="#fff"/>
<rect x="732" y="86" width="7" height="1" fill="#fff"/>
<rect x="743" y="86" width="7" height="1" fill="#fff"/>
<rect x="732" y="87" width="7" height="1" fill="#fff"/>
<rect x="743" y="87" width="7" height="1" fill="#fff"/>
<rect x="732" y="88" width="7" height="1" fill="#fff"/>
<rect x="743" y="88" width="7" height="1" fill="#fff"/>
<rect x="668" y="136" width="7" height="1" fill="#fff"/>
<rect x="680" y="136" width="7" height="1" fill="#fff"/>
<rect x="668" y="137" width="7" height="1" fill="#fff"/>
<rect x="680" y="137" width="7" height="1" fill="#fff"/>
<rect x="668" y="138" width="7" height="1" fill="#fff"/>
<rect x="680" y="138" width="7" height="1" fill="#fff"/>
<rect x="431" y="182" width="1" height="1" fill="#fff"/>
<rect x="431" y="183" width="1" height="1" fill="#fff"/>
<rect x="424" y="185" width="8" height="1" fill="#fff"/>
<rect x="436" y="185" width="7" height="1" fill="#fff"/>
<rect x="424" y="186" width="8" height="1" fill="#fff"/>
<rect x="436" y="186" width="7" height="1" fill="#fff"/>
<rect x="424" y="187" width="8" height="1" fill="#fff"/>
<rect x="436" y="187" width="7" height="1" fill="#fff"/>
<rect x="56" y="447" width="1" height="1" fill="#fff"/>
<rect x="56" y="448" width="1" height="1" fill="#fff"/>
<rect x="52" y="449" width="5" height="1" fill="#fff"/>
<rect x="61" y="449" width="4" height="1" fill="#fff"/>
<rect x="52" y="450" width="5" height="1" fill="#fff"/>
<rect x="61" y="450" width="4" height="1" fill="#fff"/>
<rect x="52" y="451" width="5" height="1" fill="#fff"/>
<rect x="61" y="451" width="4" height="1" fill="#fff"/>
<rect x="52" y="452" width="5" height="1" fill="#fff"/>
<rect x="61" y="452" width="4" height="1" fill="#fff"/>
<rect x="56" y="559" width="1" height="1" fill="#fff"/>
<rect x="56" y="560" width="1" height="1" fill="#fff"/>
<rect x="52" y="561" width="5" height="1" fill="#fff"/>
<rect x="61" y="561" width="4" height="1" fill="#fff"/>
<rect x="52" y="562" width="5" height="1" fill="#fff"/>
<rect x="61" y="562" width="4" height="1" fill="#fff"/>
<rect x="52" y="563" width="5" height="1" fill="#fff"/>
<rect x="61" y="563" width="4" height="1" fill="#fff"/>
<rect x="52" y="564" width="5" height="1" fill="#fff"/>
<rect x="61" y="564" width="4" height="1" fill="#fff"/>
<rect x="149" y="810" width="5" height="1" fill="#fff"/>
<rect x="158" y="810" width="4" height="1" fill="#fff"/>
<rect x="149" y="811" width="5" height="1" fill="#fff"/>
<rect x="158" y="811" width="4" height="1" fill="#fff"/>
<rect x="149" y="812" width="5" height="1" fill="#fff"/>
<rect x="158" y="812" width="4" height="1" fill="#fff"/>
<rect x="150" y="813" width="4" height="1" fill="#fff"/>
<rect x="158" y="813" width="4" height="1" fill="#fff"/>
<rect x="778" y="809" width="5" height="1" fill="#fff"/>
<rect x="787" y="809" width="5" height="1" fill="#fff"/>
<rect x="778" y="810" width="5" height="1" fill="#fff"/>
<rect x="787" y="810" width="5" height="1" fill="#fff"/>
<rect x="778" y="811" width="5" height="1" fill="#fff"/>
<rect x="787" y="811" width="5" height="1" fill="#fff"/>
<rect x="779" y="812" width="4" height="1" fill="#fff"/>
<rect x="787" y="812" width="4" height="1" fill="#fff"/>
<rect x="833" y="807" width="1" height="1" fill="#fff"/>
<rect x="833" y="808" width="1" height="1" fill="#fff"/>
<rect x="828" y="809" width="6" height="1" fill="#fff"/>
<rect x="838" y="809" width="4" height="1" fill="#fff"/>
<rect x="828" y="810" width="6" height="1" fill="#fff"/>
<rect x="838" y="810" width="4" height="1" fill="#fff"/>
<rect x="828" y="811" width="6" height="1" fill="#fff"/>
<rect x="838" y="811" width="4" height="1" fill="#fff"/>
<rect x="829" y="812" width="5" height="1" fill="#fff"/>
<rect x="838" y="812" width="4" height="1" fill="#fff"/>
<rect x="213" y="967" width="6" height="1" fill="#fff"/>
<rect x="223" y="967" width="5" height="1" fill="#fff"/>
<rect x="213" y="968" width="6" height="1" fill="#fff"/>
<rect x="223" y="968" width="5" height="1" fill="#fff"/>
</g>
</svg>
</body></html>
